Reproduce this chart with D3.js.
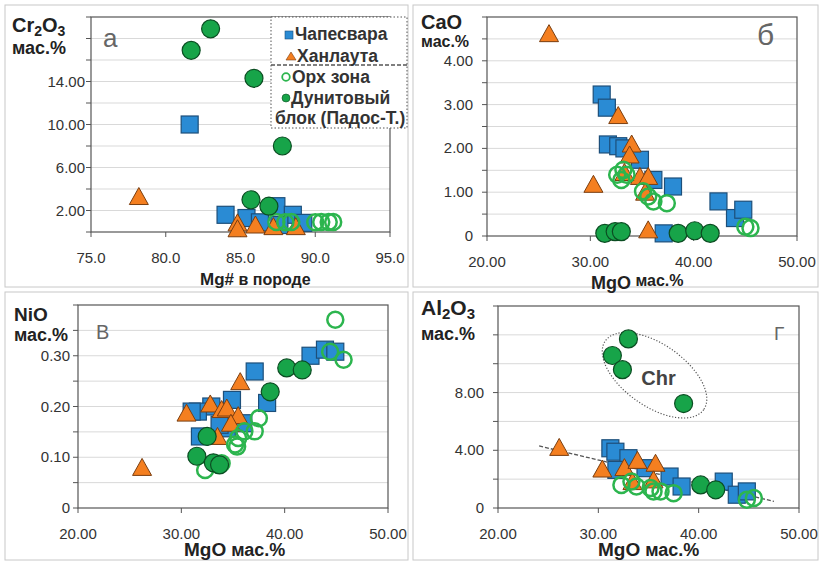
<!DOCTYPE html>
<html>
<head>
<meta charset="utf-8">
<script src="https://cdn.jsdelivr.net/npm/d3@7"></script>
<style>
  body { margin: 0; background: #fff; }
  svg { font-family: "Liberation Sans", Arial, sans-serif; }
</style>
</head>
<body>
<div id="chart"></div>
<script>
// ---- data ----
const seriesNames = ["Чапесвара", "Ханлаута", "Орх зона", "Дунитовый", "блок (Падос-Т.)"];

// а: Mg# vs Cr2O3
const aChap = [[81.6,10.0],[84.0,1.6],[85.4,1.3],[87.4,2.4],[88.5,1.6],[89.2,0.85],[86.3,0.9],[87.6,0.65]];
const aKhan = [[78.2,3.3],[84.8,0.85],[84.8,0.3],[86.0,0.65],[87.2,0.5],[88.7,0.5]];
const aOrh  = [[87.4,0.93],[88.0,0.9],[88.4,0.93],[90.0,0.9],[90.4,0.93],[90.9,0.93],[91.2,0.93]];
const aDun  = [[83.0,18.9],[81.7,16.9],[85.9,14.3],[87.8,8.0],[85.7,3.0],[86.9,2.4]];

// б: MgO vs CaO
const bChap = [[31.1,3.23],[31.6,2.93],[31.7,2.09],[32.7,2.05],[33.3,2.0],[34.8,1.74],[36.1,1.28],[38.0,1.13],[42.4,0.79],[44.0,0.41],[44.8,0.6],[37.1,0.06]];
const bKhan = [[26.0,4.62],[30.3,1.18],[32.7,2.75],[34.0,2.1],[33.8,1.85],[34.8,1.36],[35.6,1.36],[35.3,1.0],[33.3,1.45],[35.6,0.14]];
const bOrh  = [[32.6,1.4],[33.0,1.28],[33.2,1.51],[33.5,1.4],[35.1,1.02],[35.6,0.9],[36.1,0.79],[37.4,0.75],[45.0,0.21],[45.5,0.18]];
const bDun  = [[31.4,0.06],[32.4,0.1],[33.0,0.1],[38.5,0.06],[40.1,0.12],[41.6,0.06]];

// в: MgO vs NiO
const cChap = [[37.1,0.269],[38.3,0.207],[42.5,0.30],[43.9,0.312],[44.9,0.308],[34.9,0.213],[32.9,0.20],[31.6,0.19],[31.0,0.19],[31.8,0.141],[34.4,0.157],[36.0,0.167],[33.7,0.164]];
const cKhan = [[26.2,0.08],[30.5,0.187],[32.8,0.205],[33.9,0.194],[34.4,0.197],[35.7,0.249],[35.5,0.182],[33.5,0.141],[34.8,0.167]];
const cOrh  = [[44.9,0.371],[45.7,0.292],[44.4,0.308],[37.5,0.177],[37.1,0.151],[36.1,0.151],[35.5,0.138],[35.2,0.125],[35.4,0.121],[32.3,0.075],[33.6,0.085],[33.9,0.088]];
const cDun  = [[40.2,0.276],[41.7,0.272],[38.6,0.229],[32.5,0.141],[31.5,0.102],[33.1,0.089],[33.7,0.085]];

// г: MgO vs Al2O3
const dChap = [[31.2,4.14],[31.7,3.9],[33.0,3.45],[31.8,2.64],[34.7,2.76],[37.1,2.18],[38.3,1.49],[42.5,1.83],[43.8,0.92],[44.8,1.15]];
const dKhan = [[26.1,4.2],[30.4,2.7],[32.6,2.8],[33.9,3.3],[35.7,3.1],[35.5,1.95],[33.4,1.83]];
const dOrh  = [[32.3,1.6],[33.3,1.83],[33.8,1.49],[35.2,1.38],[35.5,1.15],[36.2,1.15],[37.5,1.03],[44.8,0.57],[45.5,0.69]];
const dDun  = [[33.0,11.72],[31.4,10.57],[32.4,9.59],[38.5,7.24],[40.2,1.6],[41.7,1.26]];
const dTrend = {slope: -0.164, intercept: 8.25, from: 24.1, to: 47.5};
const chrCenter = [35.6, 9.2];

// tick values
const aXTicks = [75, 80, 85, 90, 95], aYLabels = [2, 6, 10, 14];
const mgoTicks = [20, 30, 40, 50];
const bYLabels = [0, 1, 2, 3, 4];
const cYLabels = [0, 0.1, 0.2, 0.3];
const dYLabels = [0, 4, 8];

// ---- styles ----
const C = {
  blue: "#2a8bd4", blueS: "#1d4f7a",
  orange: "#f47f20", orangeS: "#7a3e10",
  green: "#17a449", greenS: "#0b4d22",
  open: "#2cb54e", grid: "#d9d9d9", axis: "#555", text: "#333"
};

const svg = d3.select("#chart").append("svg")
  .attr("width", 824).attr("height", 565);

// panel frames
[[5,5,403,282],[413,5,405,282],[5,292,403,268],[413,292,405,268]].forEach(r => {
  svg.append("rect").attr("x", r[0]).attr("y", r[1]).attr("width", r[2]).attr("height", r[3])
    .attr("fill", "none").attr("stroke", "#c8c8c8");
});

function fmt(v) { return v === 0 ? "0" : d3.format(".2f")(v); }

function panel(cfg) {
  const x = d3.scaleLinear().domain(cfg.xd).range(cfg.xr);
  const y = d3.scaleLinear().domain(cfg.yd).range(cfg.yr);
  const g = svg.append("g");

  // gridlines + minor y ticks
  const steps = d3.range(cfg.yd[0], cfg.yd[1] + cfg.ystep / 2, cfg.ystep);
  steps.forEach(v => {
    if (v > cfg.yd[0] && v < cfg.yd[1])
      g.append("line").attr("x1", cfg.xr[0]).attr("x2", cfg.xr[1])
        .attr("y1", y(v)).attr("y2", y(v)).attr("stroke", C.grid);
    g.append("line").attr("x1", cfg.xr[0] - 5).attr("x2", cfg.xr[0])
      .attr("y1", y(v)).attr("y2", y(v)).attr("stroke", C.axis);
  });

  // plot border
  g.append("rect").attr("x", cfg.xr[0]).attr("y", cfg.yr[1])
    .attr("width", cfg.xr[1] - cfg.xr[0]).attr("height", cfg.yr[0] - cfg.yr[1])
    .attr("fill", "none").attr("stroke", C.axis).attr("stroke-width", 1.2);

  // x ticks
  cfg.xticks.forEach(v => {
    g.append("line").attr("x1", x(v)).attr("x2", x(v))
      .attr("y1", cfg.yr[0]).attr("y2", cfg.yr[0] + 5).attr("stroke", C.axis);
    g.append("text").attr("x", x(v)).attr("y", cfg.yr[0] + 31)
      .attr("text-anchor", "middle").attr("font-size", 15).attr("fill", C.text)
      .text(cfg.xfmt(v));
  });
  // y labels
  cfg.ylabels.forEach(v => {
    g.append("text").attr("x", cfg.xr[0] - cfg.ygap).attr("y", y(v) + 5)
      .attr("text-anchor", "end").attr("font-size", 15).attr("fill", C.text)
      .text(cfg.yfmt(v));
  });

  if (cfg.extra) cfg.extra(g, x, y);

  // series: blue squares, orange triangles, open circles, filled circles
  g.selectAll(".sq").data(cfg.chap).join("rect")
    .attr("x", d => x(d[0]) - 8.5).attr("y", d => y(d[1]) - 8.5)
    .attr("width", 17).attr("height", 17)
    .attr("fill", C.blue).attr("stroke", C.blueS).attr("stroke-width", 1.2);
  g.selectAll(".tri").data(cfg.khan).join("path")
    .attr("d", d => {
      const cx = x(d[0]), cy = y(d[1]);
      return `M${cx},${cy - 9}L${cx + 9.5},${cy + 8}L${cx - 9.5},${cy + 8}Z`;
    })
    .attr("fill", C.orange).attr("stroke", C.orangeS).attr("stroke-width", 1);
  g.selectAll(".oc").data(cfg.orh).join("circle")
    .attr("cx", d => x(d[0])).attr("cy", d => y(d[1])).attr("r", 8)
    .attr("fill", "none").attr("stroke", C.open).attr("stroke-width", 2.5);
  g.selectAll(".fc").data(cfg.dun).join("circle")
    .attr("cx", d => x(d[0])).attr("cy", d => y(d[1])).attr("r", 9)
    .attr("fill", C.green).attr("stroke", C.greenS).attr("stroke-width", 1.2);

  return g;
}

function label(parts, x, y) {
  // parts: [text, size, dy]
  const t = svg.append("text").attr("x", x).attr("y", y)
    .attr("font-weight", "bold").attr("fill", "#222");
  parts.forEach(p => {
    t.append("tspan").attr("font-size", p[1]).attr("dy", p[2] || 0).text(p[0]);
  });
  return t;
}

// ---- panel а ----
panel({
  xd: [75, 95], xr: [91, 390], yd: [0, 20], yr: [232, 17], ystep: 2,
  xticks: aXTicks, xfmt: d3.format(".1f"), ylabels: aYLabels, yfmt: d3.format(".2f"), ygap: 6,
  chap: aChap, khan: aKhan, orh: aOrh, dun: aDun
});
label([["Cr",20],["2",14,4],["O",20,-4],["3",14,4]], 12, 32);
label([["мас.%",18]], 12, 54);
label([["Mg#",17],[" в породе",16]], 200, 285);
svg.append("text").attr("x", 103).attr("y", 47).attr("font-size", 26).attr("fill", "#666").text("а");

// legend
const lg = svg.append("g");
lg.append("rect").attr("x", 271).attr("y", 17).attr("width", 136).attr("height", 111)
  .attr("fill", "#fff").attr("stroke", C.axis).attr("stroke-dasharray", "1.5,2");
lg.append("line").attr("x1", 271).attr("x2", 407).attr("y1", 65).attr("y2", 65)
  .attr("stroke", C.axis).attr("stroke-width", 1.3).attr("stroke-dasharray", "4,2");
lg.append("rect").attr("x", 285).attr("y", 31).attr("width", 8).attr("height", 8)
  .attr("fill", C.blue).attr("stroke", C.blueS).attr("stroke-width", 0.6);
lg.append("path").attr("d", "M291,52L296,60L286,60Z").attr("fill", C.orange).attr("stroke", C.orangeS).attr("stroke-width", 0.6);
lg.append("circle").attr("cx", 286).attr("cy", 77).attr("r", 3.8).attr("fill", "none").attr("stroke", C.open).attr("stroke-width", 1.8);
lg.append("circle").attr("cx", 286).attr("cy", 98).attr("r", 4).attr("fill", C.green).attr("stroke", C.greenS).attr("stroke-width", 0.6);
[[seriesNames[0], 295, 40], [seriesNames[1], 297, 62], [seriesNames[2], 292, 83],
 [seriesNames[3], 291, 104], [seriesNames[4], 275, 124]].forEach(e => {
  lg.append("text").attr("x", e[1]).attr("y", e[2]).attr("font-size", 17.5)
    .attr("font-weight", "bold").attr("fill", C.text).text(e[0]);
});

// ---- panel б ----
panel({
  xd: [20, 50], xr: [487, 797], yd: [0, 5], yr: [236, 17], ystep: 0.5,
  xticks: mgoTicks, xfmt: d3.format(".2f"), ylabels: bYLabels, yfmt: fmt, ygap: 14,
  chap: bChap, khan: bKhan, orh: bOrh, dun: bDun
});
label([["CaO",20]], 421, 29);
label([["мас.%",16]], 421, 47);
label([["MgO",18],[" мас.%",16,-3]], 591, 289);
svg.append("text").attr("x", 757).attr("y", 45).attr("font-size", 30).attr("fill", "#666").text("б");

// ---- panel в ----
panel({
  xd: [20, 50], xr: [78, 388], yd: [0, 0.4], yr: [508, 305], ystep: 0.05,
  xticks: mgoTicks, xfmt: d3.format(".2f"), ylabels: cYLabels, yfmt: fmt, ygap: 8,
  chap: cChap, khan: cKhan, orh: cOrh, dun: cDun
});
label([["NiO",19]], 14, 321);
label([["мас.%",18]], 14, 341);
label([["MgO",19],[" мас.%",18]], 184, 556);
svg.append("text").attr("x", 96).attr("y", 339).attr("font-size", 20).attr("fill", "#666").text("В");

// ---- panel г ----
panel({
  xd: [20, 50], xr: [498, 799], yd: [0, 14], yr: [508, 306], ystep: 2,
  xticks: mgoTicks, xfmt: d3.format(".2f"), ylabels: dYLabels, yfmt: fmt, ygap: 14,
  chap: dChap, khan: dKhan, orh: dOrh, dun: dDun,
  extra: (g, x, y) => {
    g.append("line")
      .attr("x1", x(dTrend.from)).attr("y1", y(dTrend.intercept + dTrend.slope * dTrend.from))
      .attr("x2", x(dTrend.to)).attr("y2", y(dTrend.intercept + dTrend.slope * dTrend.to))
      .attr("stroke", "#555").attr("stroke-width", 1.3).attr("stroke-dasharray", "4,2");
    g.append("ellipse").attr("cx", 0).attr("cy", 0).attr("rx", 60).attr("ry", 31)
      .attr("transform", `translate(${x(chrCenter[0])},${y(chrCenter[1])}) rotate(35)`)
      .attr("fill", "none").attr("stroke", "#555").attr("stroke-width", 1.2).attr("stroke-dasharray", "1.2,1.8");
    g.append("text").attr("x", x(chrCenter[0]) + 4).attr("y", y(chrCenter[1]) + 10)
      .attr("text-anchor", "middle").attr("font-size", 20).attr("font-weight", "bold")
      .attr("fill", "#444").text("Chr");
  }
});
label([["Al",21],["2",15,4],["O",21,-4],["3",15,4]], 421, 315);
label([["мас.%",18]], 421, 340);
label([["MgO",19],[" мас.%",18]], 598, 556);
svg.append("text").attr("x", 774).attr("y", 340).attr("font-size", 19).attr("fill", "#666").text("Г");
</script>
</body>
</html>
